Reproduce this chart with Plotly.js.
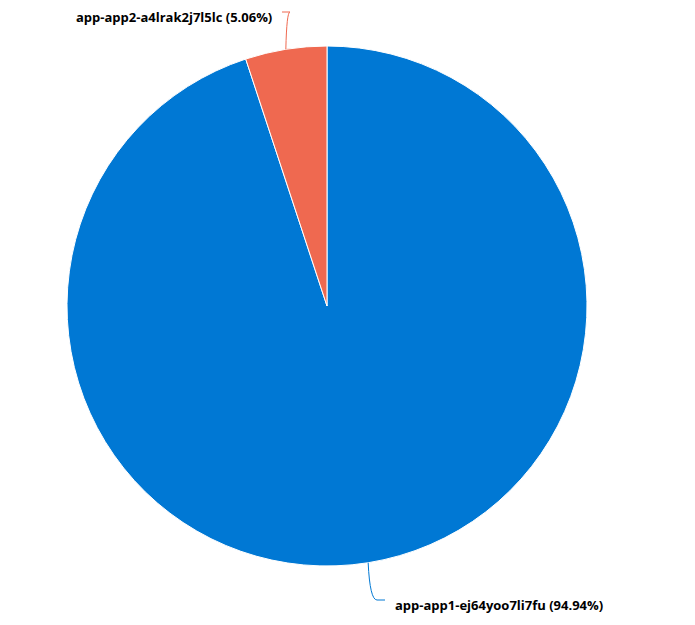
<!DOCTYPE html>
<html>
<head>
<meta charset="utf-8">
<script src="https://cdn.plot.ly/plotly-3.0.1.min.js"></script>
<style>html,body{margin:0;padding:0;background:#fff}#chart{width:695px;height:625px}</style>
</head>
<body>
<div id="chart"></div>
<script>
var labels = ["app-app1-ej64yoo7li7fu", "app-app2-a4lrak2j7l5lc"];
var values = [94.94, 5.06];
var colors = ["#0078d4", "#ef6950"];

var W = 695, H = 625, cx = 327, cy = 306, R = 260;
function px(x) { return x / W; }
function py(y) { return 1 - y / H; }

// leader lines start at each slice's mid angle (clockwise from 12 o'clock)
var total = values.reduce(function (a, b) { return a + b; }, 0);
var ends = [[385, 600, 1], [282, 12, -1]];
var shapes = [], annotations = [], acc = 0;
values.forEach(function (v, i) {
  var a = (acc + v / 2) / total * 2 * Math.PI;
  acc += v;
  var sx = cx + R * Math.sin(a), sy = cy - R * Math.cos(a);
  var ex = ends[i][0], ey = ends[i][1], dir = ends[i][2];
  var kx = ex - dir * 8;
  var path = "M" + px(sx) + "," + py(sy) + " Q" + px(sx + (kx - sx) * 0.2) + "," + py(ey) +
             " " + px(kx) + "," + py(ey) + " L" + px(ex) + "," + py(ey);
  shapes.push({ type: "path", xref: "paper", yref: "paper", path: path,
                line: { color: colors[i], width: 1 } });
  annotations.push({
    xref: "paper", yref: "paper", showarrow: false,
    x: px(dir > 0 ? ex + 8 : ex - 8), y: py(ey + (dir > 0 ? 5 : 5)),
    xanchor: dir > 0 ? "left" : "right", yanchor: "middle",
    text: labels[i] + " (" + v.toFixed(2) + "%)",
    font: { family: "Open Sans, sans-serif", size: 13, color: "#000", weight: "bold" }
  });
});

Plotly.newPlot("chart", [{
  type: "pie", labels: labels, values: values, sort: false, direction: "clockwise",
  rotation: 0, textinfo: "none", hoverinfo: "label+percent",
  marker: { colors: colors, line: { color: "#fff", width: 1 } },
  domain: { x: [px(cx - R), px(cx + R)], y: [py(cy + R), py(cy - R)] }
}], {
  width: W, height: H, margin: { l: 0, r: 0, t: 0, b: 0 }, showlegend: false,
  paper_bgcolor: "#fff", shapes: shapes, annotations: annotations
}, { displayModeBar: false, staticPlot: true });
</script>
</body>
</html>
